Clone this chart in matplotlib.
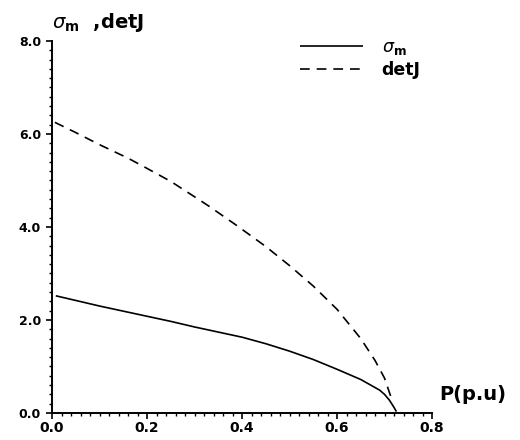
import matplotlib
matplotlib.use("Agg")
import matplotlib.pyplot as plt
from matplotlib.ticker import MultipleLocator, FormatStrFormatter

plt.rcParams["font.family"] = ["DejaVu Sans"]
plt.rcParams["mathtext.fontset"] = "dejavusans"
plt.rcParams["lines.scale_dashes"] = False

# Active power P (p.u) and the two stability indices
p_sigma = [0.008, 0.05, 0.1, 0.15, 0.2, 0.25, 0.3, 0.35, 0.4, 0.45, 0.5,
           0.55, 0.6, 0.65, 0.69, 0.70, 0.71, 0.72, 0.725]
sigma_m = [2.52, 2.42, 2.30, 2.19, 2.08, 1.97, 1.85, 1.74, 1.63, 1.49, 1.33,
           1.15, 0.94, 0.72, 0.49, 0.40, 0.28, 0.12, 0.03]

p_det = [0.006, 0.05, 0.1, 0.16, 0.2, 0.25, 0.3, 0.33, 0.385, 0.45, 0.5,
         0.55, 0.6, 0.65, 0.68, 0.70, 0.715]
det_j = [6.25, 6.03, 5.77, 5.48, 5.26, 4.98, 4.65, 4.45, 4.06, 3.58, 3.17,
         2.73, 2.23, 1.60, 1.13, 0.75, 0.30]

x_ticks = [0.0, 0.2, 0.4, 0.6, 0.8]
y_ticks = [0.0, 2.0, 4.0, 6.0, 8.0]

fig = plt.figure(figsize=(5.2, 4.4), dpi=100)
ax = fig.add_axes([0.1, 0.0614, 0.7308, 0.8455])

ax.plot(p_sigma, sigma_m, color="black", lw=1.2, solid_capstyle="butt",
        label=r"$\sigma_{\mathbf{m}}$")
ax.plot(p_det, det_j, color="black", lw=1.2, linestyle=(0, (7, 5)),
        label="detJ")

ax.set_xlim(0, 0.8)
ax.set_ylim(0, 8)
ax.set_xticks(x_ticks)
ax.set_yticks(y_ticks)
ax.xaxis.set_major_formatter(FormatStrFormatter("%.1f"))
ax.yaxis.set_major_formatter(FormatStrFormatter("%.1f"))
ax.xaxis.set_minor_locator(MultipleLocator(0.02))
ax.yaxis.set_minor_locator(MultipleLocator(0.2))

for side in ("top", "right"):
    ax.spines[side].set_visible(False)
for side in ("left", "bottom"):
    ax.spines[side].set_linewidth(1.4)

ax.tick_params(axis="both", which="major", direction="out", length=4,
               width=1.2)
ax.tick_params(axis="both", which="minor", direction="out", length=2.5,
               width=1.0)
ax.tick_params(axis="y", which="major", pad=4, labelsize=9)
ax.tick_params(axis="x", which="major", pad=1.5, labelsize=10)
for lab in ax.get_xticklabels() + ax.get_yticklabels():
    lab.set_fontweight("bold")

fig.text(0.1, 0.95, r"$\sigma_{\mathbf{m}}$  ,detJ", fontsize=14,
         fontweight="bold", ha="left", va="center")
fig.text(0.909, 0.1023, "P(p.u)", fontsize=14, fontweight="bold",
         ha="center", va="center")

leg = ax.legend(loc="upper left", bbox_to_anchor=(300 / 520, 1 - 38 / 440),
                bbox_transform=fig.transFigure, frameon=False,
                prop={"size": 12.5, "weight": "bold"},
                handlelength=3.6, handletextpad=1.1, labelspacing=0.25,
                borderpad=0, borderaxespad=0)

fig.savefig("out.png", dpi=100)
